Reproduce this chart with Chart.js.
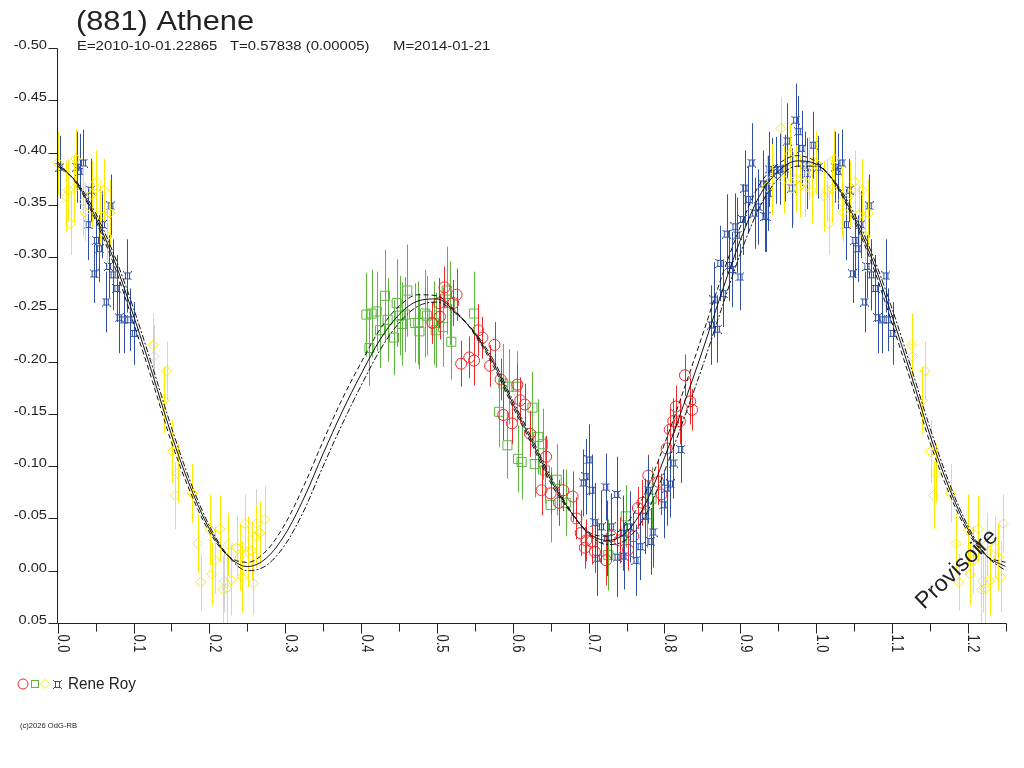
<!DOCTYPE html>
<html>
<head>
<meta charset="utf-8">
<title>(881) Athene</title>
<script src="https://cdn.jsdelivr.net/npm/chart.js@4.4.1/dist/chart.umd.min.js"></script>
<style>
  html, body { margin: 0; padding: 0; background: #fff; }
  canvas { display: block; }
</style>
</head>
<body>
<canvas id="c" width="1024" height="768" style="width:1024px;height:768px"></canvas>
<script>
// courbe de lumiere (881) Athene — points de phase et courbes d'ajustement

const FONT = '"Liberation Sans", Arial, sans-serif';
const INK = '#222';
const RED = '#f02828';
const GREEN = '#5cb83c';
const YELLOW = '#ffe800';
const BLUE = '#3050a8';
const GRAY = '#d2d2d2';

// courbes (phase, magnitude)
const curvePhase = [0, 0.025, 0.05, 0.075, 0.1, 0.125, 0.15, 0.175, 0.2, 0.225, 0.25,
  0.275, 0.3, 0.325, 0.35, 0.375, 0.4, 0.425, 0.45, 0.475, 0.5,
  0.525, 0.55, 0.575, 0.6, 0.625, 0.65, 0.675, 0.7, 0.725, 0.75,
  0.775, 0.8, 0.825, 0.85, 0.875, 0.9, 0.925, 0.95, 0.975,
  1, 1.025, 1.05, 1.075, 1.1, 1.125, 1.15, 1.175, 1.2, 1.225, 1.25];
const curveMid = [-0.389, -0.371, -0.338, -0.296, -0.244, -0.188, -0.130, -0.080, -0.040, -0.014, -0.004,
  -0.012, -0.035, -0.070, -0.112, -0.152, -0.188, -0.221, -0.245, -0.258, -0.260,
  -0.247, -0.227, -0.198, -0.160, -0.124, -0.087, -0.058, -0.036, -0.029, -0.037,
  -0.064, -0.108, -0.158, -0.210, -0.265, -0.316, -0.358, -0.382, -0.392,
  -0.389, -0.371, -0.338, -0.296, -0.244, -0.188, -0.130, -0.080, -0.040, -0.014, -0.004];
const curveUpper = [-0.391, -0.370, -0.335, -0.291, -0.237, -0.181, -0.123, -0.075, -0.037, -0.014, -0.008,
  -0.019, -0.045, -0.082, -0.124, -0.164, -0.199, -0.231, -0.253, -0.264, -0.263,
  -0.248, -0.226, -0.195, -0.157, -0.121, -0.084, -0.057, -0.037, -0.033, -0.045,
  -0.075, -0.121, -0.172, -0.225, -0.280, -0.329, -0.369, -0.389, -0.397,
  -0.391, -0.370, -0.335, -0.291, -0.237, -0.181, -0.123, -0.075, -0.037, -0.014, -0.008];
const curveLower = [-0.387, -0.372, -0.342, -0.301, -0.251, -0.195, -0.137, -0.085, -0.043, -0.014, 0.000,
  -0.005, -0.025, -0.058, -0.100, -0.140, -0.177, -0.211, -0.237, -0.253, -0.257,
  -0.246, -0.228, -0.201, -0.163, -0.127, -0.090, -0.059, -0.035, -0.025, -0.030,
  -0.053, -0.095, -0.144, -0.195, -0.250, -0.303, -0.347, -0.375, -0.387,
  -0.387, -0.372, -0.342, -0.301, -0.251, -0.195, -0.137, -0.085, -0.043, -0.014, 0.000];

// series de mesures (phase 0..1, magnitude, erreur)
const redPhase = [0.494, 0.503, 0.504, 0.510, 0.5216, 0.526, 0.532, 0.5427, 0.549, 0.5545,
  0.560, 0.570, 0.576, 0.584, 0.5875, 0.599, 0.606, 0.610, 0.616, 0.6227,
  0.638, 0.644, 0.650, 0.661, 0.6666, 0.679, 0.684, 0.6895, 0.695, 0.697,
  0.704, 0.7084, 0.723, 0.730, 0.741, 0.752, 0.759, 0.765, 0.771, 0.7787,
  0.792, 0.796, 0.803, 0.807, 0.8116, 0.815, 0.8205, 0.827, 0.834, 0.8366];
const redMag = [-0.237, -0.256, -0.243, -0.271, -0.256, -0.264, -0.198, -0.204, -0.201, -0.230,
  -0.223, -0.196, -0.216, -0.183, -0.149, -0.141, -0.178, -0.163, -0.159, -0.131,
  -0.077, -0.109, -0.074, -0.065, -0.077, -0.071, -0.050, -0.036, -0.022, -0.029,
  -0.028, -0.018, -0.010, -0.033, -0.029, -0.020, -0.033, -0.060, -0.065, -0.091,
  -0.085, -0.073, -0.117, -0.135, -0.143, -0.157, -0.143, -0.187, -0.162, -0.154];
const redErr = [0.020, 0.024, 0.022, 0.020, 0.022, 0.025, 0.022, 0.020, 0.024, 0.025,
  0.020, 0.020, 0.022, 0.020, 0.024, 0.020, 0.020, 0.022, 0.020, 0.022,
  0.024, 0.020, 0.020, 0.022, 0.020, 0.024, 0.020, 0.022, 0.020, 0.020,
  0.022, 0.020, 0.024, 0.020, 0.022, 0.020, 0.022, 0.020, 0.022, 0.020,
  0.022, 0.020, 0.022, 0.020, 0.022, 0.020, 0.022, 0.020, 0.022, 0.020];

const greenPhase = [0.407, 0.411, 0.414, 0.4206, 0.425, 0.4315, 0.435, 0.4434, 0.447, 0.451,
  0.4543, 0.458, 0.461, 0.471, 0.4755, 0.477, 0.484, 0.487, 0.496, 0.4985,
  0.508, 0.513, 0.517, 0.519, 0.549, 0.582, 0.5875, 0.593, 0.595, 0.605,
  0.607, 0.6117, 0.626, 0.629, 0.6336, 0.6395, 0.6425, 0.650, 0.658, 0.670,
  0.726, 0.749, 0.777, 0.783];
const greenMag = [-0.245, -0.213, -0.246, -0.248, -0.230, -0.263, -0.240, -0.223, -0.256, -0.244,
  -0.236, -0.245, -0.268, -0.237, -0.237, -0.229, -0.246, -0.244, -0.237, -0.230,
  -0.233, -0.268, -0.256, -0.219, -0.246, -0.152, -0.179, -0.120, -0.176, -0.176,
  -0.107, -0.104, -0.156, -0.102, -0.128, -0.121, -0.096, -0.063, -0.087, -0.065,
  -0.015, -0.052, -0.054, -0.069];
const greenErr = [0.040, 0.036, 0.042, 0.038, 0.036, 0.044, 0.040, 0.036, 0.042, 0.038,
  0.040, 0.036, 0.044, 0.038, 0.040, 0.036, 0.042, 0.038, 0.040, 0.036,
  0.038, 0.042, 0.040, 0.036, 0.040, 0.034, 0.038, 0.032, 0.036, 0.034,
  0.032, 0.036, 0.034, 0.032, 0.036, 0.034, 0.032, 0.036, 0.034, 0.032,
  0.034, 0.030, 0.032, 0.030];

const yellowPhase = [0.000, 0.024, 0.011, 0.014, 0.021, 0.017, 0.034, 0.036, 0.051, 0.045,
  0.061, 0.056, 0.069, 0.065, 0.126, 0.1437, 0.140, 0.151, 0.158, 0.155,
  0.1775, 0.1845, 0.1885, 0.2008, 0.214, 0.225, 0.2074, 0.203, 0.218, 0.229,
  0.236, 0.247, 0.251, 0.2557, 0.2614, 0.2667, 0.2733, 0.258, 0.2434, 0.240,
  0.2228, 0.9536, 0.9655, 0.969, 0.974, 0.9787, 0.985, 0.994, 0.990, 0.9413,
  0.935, 0.9575];
const yellowMag = [-0.390, -0.394, -0.358, -0.364, -0.365, -0.332, -0.353, -0.343, -0.372, -0.360,
  -0.364, -0.340, -0.342, -0.320, -0.216, -0.191, -0.163, -0.114, -0.093, -0.072,
  -0.074, -0.026, 0.011, -0.039, -0.040, -0.025, -0.010, 0.003, 0.018, 0.009,
  -0.022, -0.045, -0.018, -0.019, -0.033, -0.036, -0.049, 0.012, 0.006, -0.013,
  0.017, -0.423, -0.399, -0.366, -0.375, -0.368, -0.372, -0.364, -0.385, -0.374,
  -0.367, -0.374];
const yellowErr = [0.030, 0.028, 0.034, 0.030, 0.032, 0.030, 0.034, 0.028, 0.030, 0.032,
  0.030, 0.028, 0.032, 0.030, 0.030, 0.028, 0.032, 0.030, 0.028, 0.032,
  0.028, 0.028, 0.027, 0.034, 0.032, 0.030, 0.032, 0.030, 0.032, 0.034,
  0.030, 0.028, 0.034, 0.028, 0.030, 0.030, 0.032, 0.030, 0.034, 0.032,
  0.034, 0.030, 0.028, 0.034, 0.032, 0.030, 0.034, 0.032, 0.030, 0.034,
  0.030, 0.032];

const bluePhase = [0.003, 0.025, 0.029, 0.034, 0.0435, 0.070, 0.040, 0.059, 0.051, 0.055,
  0.067, 0.073, 0.048, 0.092, 0.078, 0.064, 0.081, 0.087, 0.095, 0.101,
  0.7005, 0.6965, 0.693, 0.704, 0.7225, 0.737, 0.7084, 0.717, 0.7115, 0.730,
  0.7457, 0.754, 0.7465, 0.7375, 0.7625, 0.768, 0.774, 0.782, 0.785, 0.799,
  0.803, 0.808, 0.8116, 0.8214, 0.7787, 0.7238,
  0.862, 0.8697, 0.865, 0.873, 0.8776, 0.882, 0.8855, 0.8886, 0.893, 0.896,
  0.8996, 0.903, 0.906, 0.9105, 0.915, 0.919, 0.9237, 0.9295, 0.934, 0.937,
  0.9413, 0.947, 0.952, 0.9587, 0.962, 0.9677, 0.973, 0.9765, 0.981, 0.985,
  0.988, 0.996, 0.9325, 0.938];
const blueMag = [-0.386, -0.386, -0.382, -0.390, -0.364, -0.349, -0.331, -0.331, -0.316, -0.308,
  -0.291, -0.283, -0.284, -0.282, -0.270, -0.257, -0.242, -0.240, -0.240, -0.227,
  -0.106, -0.090, -0.084, -0.077, -0.080, -0.073, -0.046, -0.042, -0.012, -0.042,
  -0.036, -0.042, -0.014, -0.013, -0.010, -0.023, -0.052, -0.028, -0.037, -0.063,
  -0.079, -0.083, -0.103, -0.116, -0.077, -0.031,
  -0.235, -0.231, -0.259, -0.294, -0.265, -0.322, -0.292, -0.288, -0.329, -0.321,
  -0.281, -0.336, -0.366, -0.355, -0.390, -0.342, -0.348, -0.370, -0.339, -0.361,
  -0.380, -0.383, -0.384, -0.385, -0.411, -0.366, -0.431, -0.420, -0.404, -0.388,
  -0.380, -0.407, -0.339, -0.384];
const blueErr = [0.030, 0.034, 0.036, 0.032, 0.030, 0.030, 0.034, 0.032, 0.036, 0.032,
  0.030, 0.034, 0.028, 0.035, 0.032, 0.029, 0.034, 0.032, 0.030, 0.030,
  0.034, 0.036, 0.032, 0.034, 0.032, 0.036, 0.038, 0.034, 0.036, 0.032,
  0.036, 0.034, 0.032, 0.038, 0.034, 0.032, 0.036, 0.032, 0.034, 0.032,
  0.036, 0.032, 0.034, 0.032, 0.032, 0.036,
  0.038, 0.032, 0.036, 0.036, 0.032, 0.038, 0.034, 0.036, 0.032, 0.036,
  0.032, 0.034, 0.036, 0.032, 0.038, 0.034, 0.036, 0.032, 0.034, 0.036,
  0.034, 0.032, 0.034, 0.032, 0.036, 0.038, 0.035, 0.034, 0.036, 0.032,
  0.034, 0.032, 0.034, 0.036];

const grayPhase = [0.127, 0.2195, 0.262];
const grayMag = [-0.205, 0.010, -0.045];
const grayErr = [0.030, 0.030, 0.033];

// axes
const xTickValues = [0, 0.1, 0.2, 0.3, 0.4, 0.5, 0.6, 0.7, 0.8, 0.9, 1.0, 1.1, 1.2];
const xTickLabels = ['0.0', '0.1', '0.2', '0.3', '0.4', '0.5', '0.6', '0.7', '0.8', '0.9', '1.0', '1.1', '1.2'];
const xMinorValues = [0.05, 0.15, 0.25, 0.35, 0.45, 0.55, 0.65, 0.75, 0.85, 0.95, 1.05, 1.15, 1.25];
const yTickValues = [-0.5, -0.45, -0.4, -0.35, -0.3, -0.25, -0.2, -0.15, -0.1, -0.05, 0, 0.05];
const yTickLabels = ['-0.50', '-0.45', '-0.40', '-0.35', '-0.30', '-0.25', '-0.20', '-0.15', '-0.10', '-0.05', '0.00', '0.05'];

const PHASE_MAX = 1.25;

// les points de phase < 0.25 sont repetes apres 1.0
const toPoints = (ph, mag, err) => {
  const out = [];
  ph.forEach((p, i) => {
    out.push({ x: p, y: mag[i], e: err[i] });
    if (p + 1 <= PHASE_MAX) out.push({ x: p + 1, y: mag[i], e: err[i] });
  });
  return out;
};
const toCurve = (ph, mag) => ph.map((p, i) => ({ x: p, y: mag[i] }));

// symbole bleu : deux barres horizontales, deux montants, coins marques
const makeBlueMark = () => {
  const cv = document.createElement('canvas');
  cv.width = 9; cv.height = 9;
  const g = cv.getContext('2d');
  g.strokeStyle = BLUE; g.fillStyle = BLUE; g.lineWidth = 1;
  g.beginPath();
  g.moveTo(1, 1.5); g.lineTo(8, 1.5);
  g.moveTo(1, 7.5); g.lineTo(8, 7.5);
  g.moveTo(2.5, 1); g.lineTo(2.5, 8);
  g.moveTo(6.5, 1); g.lineTo(6.5, 8);
  g.stroke();
  g.fillRect(0, 0, 1, 1); g.fillRect(8, 0, 1, 1);
  g.fillRect(0, 8, 1, 1); g.fillRect(8, 8, 1, 1);
  return cv;
};
const blueMark = makeBlueMark();

const curve = (data, dash) => ({
  data, showLine: true, pointRadius: 0, borderColor: '#111', borderWidth: 1,
  borderDash: dash, cubicInterpolationMode: 'monotone', fill: false
});
const series = (data, color, style, radius) => ({
  data, errorColor: color, showLine: false, clip: false,
  pointStyle: style, pointRadius: radius, pointBorderColor: color,
  pointBackgroundColor: 'rgba(0,0,0,0)', pointBorderWidth: 1, borderColor: color
});

const datasets = [
  curve(toCurve(curvePhase, curveMid), []),
  curve(toCurve(curvePhase, curveUpper), [5, 3]),
  curve(toCurve(curvePhase, curveLower), [6, 2, 2, 2]),
  series(toPoints(yellowPhase, yellowMag, yellowErr), YELLOW, 'rectRot', 5),
  series(toPoints(bluePhase, blueMag, blueErr), BLUE, blueMark, 5),
  series(toPoints(redPhase, redMag, redErr), RED, 'circle', 5.5),
  series(toPoints(greenPhase, greenMag, greenErr), GREEN, 'rect', 6.4),
  series(toPoints(grayPhase, grayMag, grayErr), GRAY, 'rectRot', 5)
];

// barres d'erreur verticales, dessinees juste avant chaque serie
const errorBars = {
  id: 'errorBars',
  beforeDatasetDraw(chart, args) {
    const ds = chart.data.datasets[args.index];
    if (!ds.errorColor) return;
    const { ctx, scales: { x, y } } = chart;
    ctx.save();
    ctx.strokeStyle = ds.errorColor;
    ctx.lineWidth = 1;
    ctx.beginPath();
    ds.data.forEach(d => {
      const px = Math.round(x.getPixelForValue(d.x)) + 0.5;
      ctx.moveTo(px, y.getPixelForValue(d.y - d.e));
      ctx.lineTo(px, y.getPixelForValue(d.y + d.e));
    });
    ctx.stroke();
    ctx.restore();
  }
};

const text = (ctx, s, x, y, size, opts = {}) => {
  ctx.save();
  ctx.font = size + 'px ' + FONT;
  ctx.textAlign = opts.align || 'left';
  ctx.textBaseline = 'alphabetic';
  ctx.fillStyle = opts.color || INK;
  ctx.translate(x, y);
  if (opts.rot) ctx.rotate(opts.rot);
  let sx = opts.sx || 1;
  if (opts.width) sx = opts.width / ctx.measureText(s).width;
  ctx.scale(sx, opts.sy || 1);
  ctx.fillText(s, 0, 0);
  ctx.restore();
};

// axes, titres, legende
const frame = {
  id: 'frame',
  afterDraw(chart) {
    const { ctx, chartArea: a, scales: { x, y } } = chart;
    const ax = Math.round(a.left) - 0.5;
    const ay = Math.round(a.bottom) + 0.5;
    ctx.save();
    ctx.strokeStyle = INK;
    ctx.lineWidth = 1;
    ctx.beginPath();
    ctx.moveTo(ax, Math.round(y.getPixelForValue(yTickValues[0])) + 0.5);
    ctx.lineTo(ax, ay);
    ctx.lineTo(Math.round(a.right) + 0.5, ay);
    yTickValues.forEach(v => {
      const py = Math.round(y.getPixelForValue(v)) + 0.5;
      ctx.moveTo(ax - 9, py); ctx.lineTo(ax, py);
    });
    xTickValues.forEach(v => {
      const px = Math.round(x.getPixelForValue(v)) + 0.5;
      ctx.moveTo(px, ay); ctx.lineTo(px, ay + 10);
    });
    xMinorValues.forEach(v => {
      const px = Math.round(x.getPixelForValue(v)) + 0.5;
      ctx.moveTo(px, ay); ctx.lineTo(px, ay + 8);
    });
    ctx.stroke();
    ctx.restore();

    yTickValues.forEach((v, i) => {
      text(ctx, yTickLabels[i], 47, y.getPixelForValue(v) + 1, 12, { align: 'right', sx: 1.22 });
    });
    xTickValues.forEach((v, i) => {
      text(ctx, xTickLabels[i], x.getPixelForValue(v) + 0.5, ay + 11, 13, { rot: Math.PI / 2, sy: 1.2 });
    });

    text(ctx, '(881) Athene', 76, 30, 27, { width: 178 });
    text(ctx, 'E=2010-10-01.22865', 77, 50, 12, { sx: 1.24 });
    text(ctx, 'T=0.57838 (0.00005)', 230, 50, 12, { sx: 1.24 });
    text(ctx, 'M=2014-01-21', 393, 50, 12, { sx: 1.24 });
    text(ctx, 'Provisoire', 924, 610, 23, { rot: -44 * Math.PI / 180, width: 104 });

    // legende
    ctx.save();
    ctx.lineWidth = 1;
    ctx.strokeStyle = RED;
    ctx.beginPath(); ctx.arc(23, 684, 5, 0, Math.PI * 2); ctx.stroke();
    ctx.strokeStyle = GREEN;
    ctx.strokeRect(31.5, 680.5, 7, 7);
    ctx.strokeStyle = YELLOW;
    ctx.beginPath();
    ctx.moveTo(40.5, 684); ctx.lineTo(45, 679.5); ctx.lineTo(49.5, 684); ctx.lineTo(45, 688.5); ctx.closePath();
    ctx.stroke();
    ctx.drawImage(blueMark, 53, 680);
    ctx.restore();
    text(ctx, 'Rene Roy', 68, 689, 16, { width: 68 });
    text(ctx, '(c)2026 OdG-RB', 20, 728, 8, { width: 57 });
  }
};

new Chart(document.getElementById('c'), {
  type: 'scatter',
  data: { datasets },
  options: {
    responsive: false,
    animation: false,
    devicePixelRatio: 1,
    events: [],
    layout: { padding: { left: 57.7, right: 18.3, top: 48, bottom: 145 } },
    scales: {
      x: { type: 'linear', min: 0, max: PHASE_MAX, display: false },
      y: { type: 'linear', min: -0.5, max: 0.05, reverse: true, display: false }
    },
    plugins: { legend: { display: false }, tooltip: { enabled: false } }
  },
  plugins: [errorBars, frame]
});
</script>
</body>
</html>
